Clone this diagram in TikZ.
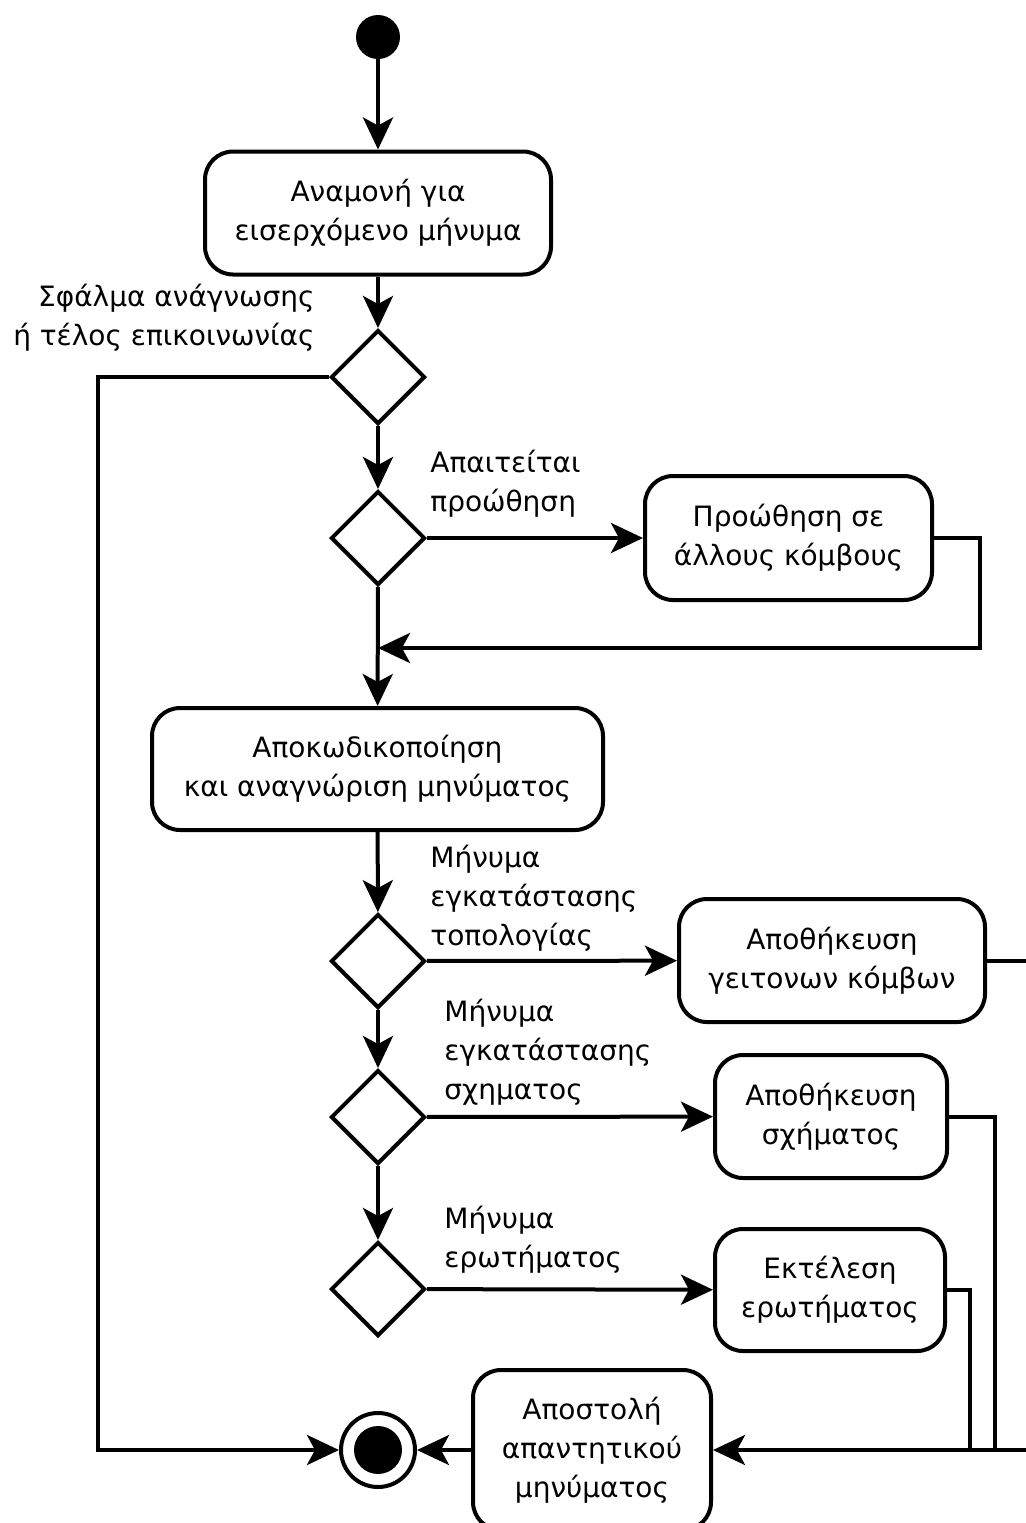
\documentclass[tikz,border=0pt]{standalone}
\usepackage{fontspec}
\setmainfont{DejaVu Sans}
\usetikzlibrary{shapes.geometric,arrows.meta}
\tikzset{
  flow/.style={line width=2pt,-{Stealth[length=16pt,width=15pt,inset=4pt]}},
  rail/.style={line width=2pt},
  activity/.style={draw,line width=2pt,rounded corners=14pt,align=center,inner sep=0pt},
  decision/.style={draw,line width=2pt,diamond,aspect=1,minimum size=47pt,inner sep=0pt},
  guard/.style={inner sep=0pt}
}
\begin{document}
\begin{tikzpicture}[x=0.5pt,y=-0.5pt,every node/.style={font=\fontsize{14}{19.5}\selectfont}]
  \useasboundingbox (0,0) rectangle (1025,1523);
  \node[circle,fill=black,minimum size=22pt,inner sep=0pt] (start) at (378,37) {};
  \node[activity,minimum width=173pt,minimum height=61.5pt] (wait) at (378,213) {Αναμονή για\\εισερχόμενο μήνυμα};
  \node[decision] (d1) at (378,377) {};
  \node[decision] (d2) at (378,538) {};
  \node[activity,minimum width=143.5pt,minimum height=62pt] (fwd) at (788.5,538) {Προώθηση σε\\άλλους κόμβους};
  \node[activity,minimum width=225.5pt,minimum height=61pt] (decode) at (377.5,769) {Αποκωδικοποίηση\\και αναγνώριση μηνύματος};
  \node[decision] (d3) at (378,961) {};
  \node[activity,minimum width=153pt,minimum height=61.5pt] (storeTopo) at (832,960.5) {Αποθήκευση\\γειτονων κόμβων};
  \node[decision] (d4) at (378,1117) {};
  \node[activity,minimum width=116pt,minimum height=61.5pt] (storeShape) at (831,1116.5) {Αποθήκευση\\σχήματος};
  \node[decision] (d5) at (378,1289) {};
  \node[activity,minimum width=115pt,minimum height=61pt] (exec) at (830,1290) {Εκτέλεση\\ερωτήματος};
  \node[activity,minimum width=119pt,minimum height=80pt] (reply) at (592,1450) {Αποστολή\\απαντητικού\\μηνύματος};
  \node[circle,draw,line width=2pt,fill=white,minimum size=37pt,inner sep=0pt] (end) at (378,1450) {};
  \node[circle,fill=black,minimum size=24pt,inner sep=0pt] (endDot) at (378,1450) {};

  \node[guard,anchor=north east,align=right] (errLbl) at (315,284) {Σφάλμα ανάγνωσης\\ή τέλος επικοινωνίας};
  \node[guard,anchor=north west,align=left] (fwdLbl) at (430,450) {Απαιτείται\\προώθηση};
  \node[guard,anchor=north west,align=left] (topoLbl) at (430,845) {Μήνυμα\\εγκατάστασης\\τοπολογίας};
  \node[guard,anchor=north west,align=left] (shapeLbl) at (444,999) {Μήνυμα\\εγκατάστασης\\σχηματος};
  \node[guard,anchor=north west,align=left] (queryLbl) at (444,1206) {Μήνυμα\\ερωτήματος};

  \coordinate (errRail) at (98,377);
  \coordinate (fwdRail) at (980,648);
  \coordinate (merge) at (378,648);
  \coordinate (topoRail) at (1028,1450);
  \coordinate (shapeRail) at (995,1450);
  \coordinate (execRail) at (970,1450);

  \draw[flow] (start) -- (wait);
  \draw[flow] (wait) -- (d1);
  \draw[flow] (d1.west) -- (errRail) |- (end.west);
  \draw[flow] (d1) -- (d2);
  \draw[flow] (d2) -- (fwd);
  \draw[flow] (fwd.east) -| (fwdRail) -- (merge);
  \draw[flow] (d2) -- (decode);
  \draw[flow] (decode) -- (d3);
  \draw[flow] (d3) -- (storeTopo);
  \draw[flow] (d3) -- (d4);
  \draw[flow] (d4) -- (storeShape);
  \draw[flow] (d4) -- (d5);
  \draw[flow] (d5) -- (exec);
  \draw[rail] (storeTopo.east) -| (topoRail);
  \draw[flow] (topoRail) -- (reply.east);
  \draw[rail] (storeShape.east) -| (shapeRail);
  \draw[rail] (exec.east) -| (execRail);
  \draw[flow] (reply) -- (end);
\end{tikzpicture}
\end{document}
